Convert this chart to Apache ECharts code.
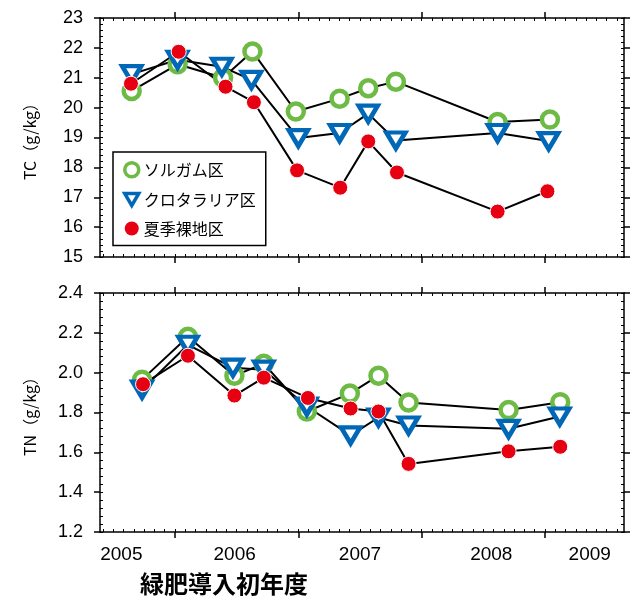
<!DOCTYPE html>
<html>
<head>
<meta charset="utf-8">
<script src="https://cdn.jsdelivr.net/npm/echarts@6/dist/echarts.min.js"></script>
<style>
html,body{margin:0;padding:0;background:#fff;}
#chart{width:637px;height:605px;}
</style>
</head>
<body>
<div id="chart"></div>
<script>
// ---- data (x in fractional years, y in g/kg) ----
const seriesNames = ['ソルガム区', 'クロタラリア区', '夏季裸地区'];
const yearLabels = ['2005', '2006', '2007', '2008', '2009'];
const yearLabelAt = [2005.565, 2006.484, 2007.5, 2008.565, 2009.363];
const yearTicks = [2006, 2007, 2008, 2009];

const tcSorghumX  = [2005.649, 2006.021, 2006.39, 2006.628, 2006.98, 2007.335, 2007.567, 2007.791, 2008.616, 2009.04];
const tcSorghum   = [20.56, 21.45, 21.0, 21.88, 19.87, 20.3, 20.65, 20.87, 19.52, 19.6];
const tcCrotX     = [2005.649, 2006.021, 2006.38, 2006.62, 2007.0, 2007.335, 2007.567, 2007.791, 2008.616, 2009.03];
const tcCrot      = [21.12, 21.6, 21.37, 20.93, 18.98, 19.15, 19.8, 18.9, 19.15, 18.88];
const tcBareX     = [2005.643, 2006.03, 2006.41, 2006.64, 2006.99, 2007.34, 2007.567, 2007.8, 2008.616, 2009.02];
const tcBare      = [20.8, 21.87, 20.7, 20.18, 17.9, 17.32, 18.87, 17.83, 16.52, 17.2];

const tnSorghumX  = [2005.733, 2006.105, 2006.482, 2006.72, 2007.069, 2007.418, 2007.65, 2007.894, 2008.705, 2009.124];
const tnSorghum   = [1.965, 2.18, 1.985, 2.045, 1.805, 1.895, 1.985, 1.85, 1.812, 1.852];
const tnCrotX     = [2005.733, 2006.105, 2006.47, 2006.72, 2007.069, 2007.424, 2007.65, 2007.894, 2008.705, 2009.12];
const tnCrot      = [1.915, 2.14, 2.025, 2.015, 1.83, 1.685, 1.775, 1.735, 1.718, 1.78];
const tnBareX     = [2005.741, 2006.105, 2006.482, 2006.72, 2007.078, 2007.424, 2007.65, 2007.894, 2008.705, 2009.124];
const tnBare      = [1.942, 2.085, 1.885, 1.975, 1.873, 1.82, 1.805, 1.542, 1.605, 1.628];

const tcTicks = [15, 16, 17, 18, 19, 20, 21, 22, 23];
const tnTicks = [1.2, 1.4, 1.6, 1.8, 2.0, 2.2, 2.4];

// ---- styles ----
const GREEN = '#6DBB45', BLUE = '#0068B7', RED = '#E60012';
const NUM_FONT = 'Liberation Sans';
const JP_FONT = 'Noto Sans CJK JP';
const X_MIN = 2005.392, X_MAX = 2009.641;
const TRI = 'path://M0,0L20,0L10,17Z';

function zip(xs, ys) { return xs.map((x, i) => [x, ys[i]]); }
function steps(a, b, s) { const r = []; for (let v = a; v <= b + 1e-9; v += s) r.push(+v.toFixed(4)); return r; }

const monthTicks = steps(2005, 2010, 1 / 12).filter(v => v > X_MIN && v < X_MAX);
const line = { color: '#000', width: 1.5 };

function xAxes(grid, showLabels) {
  const base = { type: 'value', gridIndex: grid, min: X_MIN, max: X_MAX, splitLine: { show: false } };
  return [
    Object.assign({}, base, {
      position: 'bottom', axisLine: { lineStyle: line },
      axisTick: { customValues: yearTicks, length: 6, inside: false, lineStyle: { color: '#000', width: 1.5 } },
      axisLabel: showLabels ? {
        show: true, customValues: yearLabelAt, margin: 13,
        formatter: v => yearLabels[yearLabelAt.findIndex(p => Math.abs(p - v) < 1e-6)] || '',
        color: '#000', fontSize: 19, fontFamily: NUM_FONT
      } : { show: false }
    }),
    Object.assign({}, base, {
      position: 'top', axisLine: { lineStyle: line },
      axisTick: { customValues: yearTicks, length: 6, inside: false, lineStyle: { color: '#000', width: 1.5 } },
      axisLabel: { show: false }
    }),
    Object.assign({}, base, {
      position: 'bottom', axisLine: { show: false },
      axisTick: { customValues: monthTicks, length: 3, inside: true, lineStyle: { color: '#000', width: 1 } },
      axisLabel: { show: false }
    }),
    Object.assign({}, base, {
      position: 'top', axisLine: { show: false },
      axisTick: { customValues: monthTicks, length: 3, inside: true, lineStyle: { color: '#000', width: 1 } },
      axisLabel: { show: false }
    })
  ];
}

function yAxes(grid, ticks, step, name, fmt) {
  const min = ticks[0], max = ticks[ticks.length - 1];
  const minor = steps(min, max, step / 5);
  const base = { type: 'value', gridIndex: grid, min: min, max: max, splitLine: { show: false } };
  return [
    Object.assign({}, base, {
      position: 'left', axisLine: { show: true, lineStyle: line },
      axisTick: { show: true, customValues: ticks, length: 6, inside: false, lineStyle: { color: '#000', width: 1.5 } },
      axisLabel: { show: true, customValues: ticks, margin: 17, color: '#000', fontSize: 18, fontFamily: NUM_FONT, formatter: fmt },
      name: name, nameLocation: 'middle', nameGap: 62,
      nameTextStyle: { color: '#000', fontSize: 16, fontFamily: JP_FONT }
    }),
    Object.assign({}, base, {
      position: 'right', axisLine: { show: true, lineStyle: line },
      axisTick: { show: true, customValues: ticks, length: 6, inside: false, lineStyle: { color: '#000', width: 1.5 } },
      axisLabel: { show: false }
    }),
    Object.assign({}, base, {
      position: 'left', axisLine: { show: false },
      axisTick: { show: true, customValues: minor, length: 3, inside: true, lineStyle: { color: '#000', width: 1 } },
      axisLabel: { show: false }
    }),
    Object.assign({}, base, {
      position: 'right', axisLine: { show: false },
      axisTick: { show: true, customValues: minor, length: 3, inside: true, lineStyle: { color: '#000', width: 1 } },
      axisLabel: { show: false }
    })
  ];
}

const markerStyles = [
  { symbol: 'circle', symbolSize: 16, itemStyle: { color: '#fff', borderColor: GREEN, borderWidth: 4.5, opacity: 1 }, z: 3 },
  { symbol: TRI, symbolSize: [19, 16], itemStyle: { color: '#fff', borderColor: BLUE, borderWidth: 4.5, borderJoin: 'miter', opacity: 1 }, z: 4 },
  { symbol: 'circle', symbolSize: 15, itemStyle: { color: RED, borderColor: '#fff', borderWidth: 1, opacity: 1 }, z: 5 }
];

const panels = [
  { xi: 0, yi: 0, sets: [zip(tcSorghumX, tcSorghum), zip(tcCrotX, tcCrot), zip(tcBareX, tcBare)] },
  { xi: 4, yi: 4, sets: [zip(tnSorghumX, tnSorghum), zip(tnCrotX, tnCrot), zip(tnBareX, tnBare)] }
];

const series = [];
panels.forEach(p => {
  p.sets.forEach((d, k) => {
    series.push({
      type: 'line', name: 'line' + p.xi + k, xAxisIndex: p.xi, yAxisIndex: p.yi, data: d,
      showSymbol: false, symbol: 'none', silent: true, z: 2,
      lineStyle: { color: '#000', width: 2 }
    });
  });
  p.sets.forEach((d, k) => {
    series.push(Object.assign({
      type: 'scatter', name: seriesNames[k], xAxisIndex: p.xi, yAxisIndex: p.yi, data: d
    }, markerStyles[k]));
  });
});

const option = {
  backgroundColor: '#fff',
  animation: false,
  title: {
    text: '緑肥導入初年度', left: 140, top: 572, padding: 0,
    textStyle: { color: '#000', fontSize: 24, fontWeight: 'bold', fontFamily: JP_FONT }
  },
  grid: [
    { left: 100, right: 13, top: 18, height: 239 },
    { left: 100, right: 13, top: 293, height: 239 }
  ],
  legend: {
    orient: 'vertical', left: 113, top: 152,
    padding: [9, 10, 9, 10], itemGap: 13, itemWidth: 14, itemHeight: 14,
    borderColor: '#000', borderWidth: 1.5, backgroundColor: '#fff',
    selectedMode: false,
    textStyle: { color: '#000', fontSize: 16, fontFamily: JP_FONT },
    data: [
      { name: seriesNames[0], icon: 'circle', itemStyle: { color: '#fff', borderColor: GREEN, borderWidth: 3.5, opacity: 1 } },
      { name: seriesNames[1], icon: TRI, itemStyle: { color: '#fff', borderColor: BLUE, borderWidth: 3.5, opacity: 1 } },
      { name: seriesNames[2], icon: 'circle', itemStyle: { color: RED, borderWidth: 0, opacity: 1 } }
    ]
  },
  xAxis: xAxes(0, false).concat(xAxes(1, true)),
  yAxis: yAxes(0, tcTicks, 1, 'TC（g/kg）', v => String(Math.round(v)))
    .concat(yAxes(1, tnTicks, 0.2, 'TN（g/kg）', v => v.toFixed(1))),
  series: series
};

const chart = echarts.init(document.getElementById('chart'), null, { renderer: 'canvas' });
chart.setOption(option);
</script>
</body>
</html>
